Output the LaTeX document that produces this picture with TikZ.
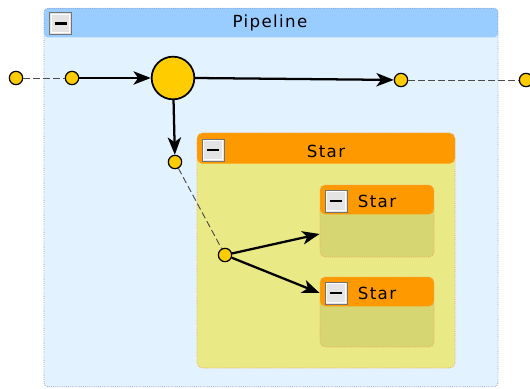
\documentclass[tikz,border=0pt]{standalone}
\usepackage{fontspec}
\setmainfont{DejaVu Sans}
\usepackage{xcolor}
\usetikzlibrary{positioning, arrows.meta, calc}
\definecolor{pipeHead}{HTML}{99CCFF}
\definecolor{pipeBody}{HTML}{E2F2FF}
\definecolor{pipeEdge}{HTML}{8F98BE}
\definecolor{starHead}{HTML}{FF9900}
\definecolor{starBody}{HTML}{E9E985}
\definecolor{subBody}{HTML}{D6D672}
\definecolor{starEdge}{HTML}{F4A35A}
\definecolor{portFill}{HTML}{FFCC00}
\definecolor{btnFill}{HTML}{E4E4E4}

\begin{document}
\begin{tikzpicture}[
  x=0.75pt, y=-0.75pt,
  every node/.style={font=\fontsize{12.5}{14}\selectfont\addfontfeature{LetterSpace=8}},
  pipebox/.style={rectangle, rounded corners=3pt, draw=pipeEdge, densely dotted,
              fill=pipeBody, line width=0.6pt, inner sep=0pt,
              path picture={\fill[pipeHead] (path picture bounding box.north west)
                rectangle ([yshift=-22pt]path picture bounding box.north east);}},
  starbox/.style={rectangle, rounded corners=4pt, draw=starEdge, densely dotted,
              fill=starBody, line width=0.6pt, inner sep=0pt,
              path picture={\fill[starHead] (path picture bounding box.north west)
                rectangle ([yshift=-23pt]path picture bounding box.north east);}},
  subbox/.style={rectangle, rounded corners=4pt, draw=starEdge, densely dotted,
              fill=subBody, line width=0.6pt, inner sep=0pt,
              minimum width=85.5pt,
              path picture={\fill[starHead] (path picture bounding box.north west)
                rectangle ([yshift=-22pt]path picture bounding box.north east);}},
  btn/.style={rectangle, draw=black!55, fill=btnFill, line width=0.7pt,
              minimum size=16.5pt, inner sep=0pt,
              path picture={\draw[white, line width=0.8pt]
                ([shift={(1.2pt,1.2pt)}]path picture bounding box.south west) rectangle
                ([shift={(-1.2pt,-1.2pt)}]path picture bounding box.north east);}},
  port/.style={circle, draw=black, fill=portFill, line width=0.9pt,
              minimum size=10pt, inner sep=0pt},
  hub/.style={circle, draw=black, fill=portFill, line width=1.3pt,
              minimum size=32pt, inner sep=0pt},
  flow/.style={-{Stealth[length=13pt, width=10pt, inset=3.5pt]}, line width=1.7pt, black},
  link/.style={dash pattern=on 5pt off 2.5pt, line width=0.7pt, black!70},
]
  \useasboundingbox (0,0) rectangle (530,388);

  % containers
  \node[pipebox, minimum width=340.5pt, minimum height=284pt] at (271,197.5) (pipe) {};
  \node[btn] at (60.5,23.5) (pipeBtn) {\rule{9pt}{2.2pt}};
  \node at (270,23) (pipeTitle) {Pipeline};

  \node[starbox, minimum width=193.5pt, minimum height=176.25pt] at (326,250.5) (star) {};
  \node[btn] at (213,150) (starBtn) {\rule{9pt}{2.2pt}};
  \node at (326,151) (starTitle) {Star};

  \node[subbox, minimum height=54pt] at (377,221) (subA) {};
  \node[btn] at (336,201) (subABtn) {\rule{9pt}{2.2pt}};
  \node at (377,201) (subATitle) {Star};

  \node[subbox, minimum height=52.5pt] at (377,312) (subB) {};
  \node[btn] at (336,293) (subBBtn) {\rule{9pt}{2.2pt}};
  \node at (377,293) (subBTitle) {Star};

  % ports
  \node[port] at (16,78)  (inOuter) {};
  \node[port] at (72,78)  (inPort)  {};
  \node[hub]  at (173,78) (hub)     {};
  \node[port] at (401,80) (outPort) {};
  \node[port] at (526,80) (outOuter) {};
  \node[port] at (175,162) (starIn) {};
  \node[port] at (225,255) (fork)   {};

  % connections
  \draw[link] (inOuter) -- (inPort);
  \draw[flow] (inPort) -- (hub);
  \draw[flow] (hub.east) -- (outPort);
  \draw[link] (outPort) -- (outOuter);
  \draw[flow] (hub) -- (starIn);
  \draw[link] (starIn) -- (fork);
  \draw[flow] (fork) -- ($(subA.west)+(0,13)$);
  \draw[flow] (fork) -- (subB.west |- subBTitle);
\end{tikzpicture}
\end{document}
